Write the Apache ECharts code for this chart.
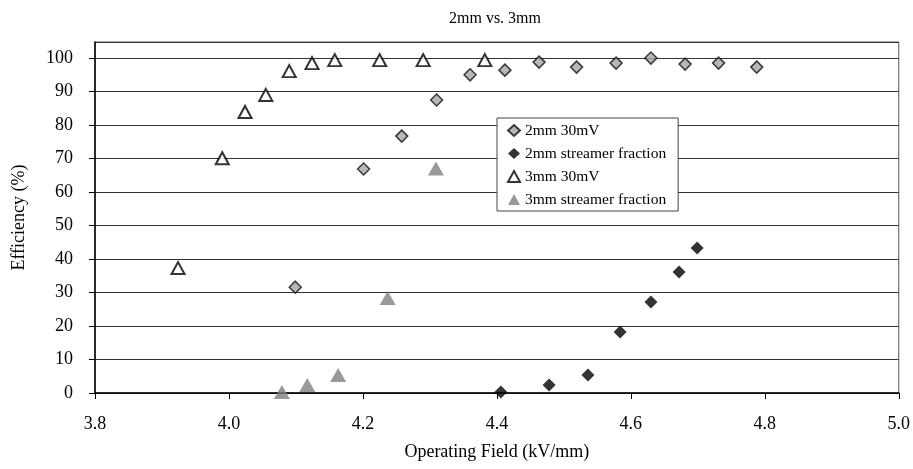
<!DOCTYPE html>
<html>
<head>
<meta charset="utf-8">
<script src="https://cdn.jsdelivr.net/npm/echarts@6/dist/echarts.min.js"></script>
<style>
  html, body { margin: 0; padding: 0; background: #fff; }
  #chart { width: 913px; height: 469px; }
</style>
</head>
<body>
<div id="chart"></div>
<script>
// 2mm 30mV
var field2mm30 = [4.099, 4.201, 4.258, 4.310, 4.360, 4.412, 4.463, 4.519, 4.578, 4.630, 4.681, 4.731, 4.788];
var eff2mm30   = [31.6, 66.9, 76.7, 87.5, 95.0, 96.4, 98.8, 97.3, 98.5, 100.0, 98.2, 98.5, 97.3];
// 2mm streamer fraction
var field2mmSt = [4.406, 4.478, 4.536, 4.584, 4.630, 4.672, 4.699];
var eff2mmSt   = [0.3, 2.4, 5.4, 18.2, 27.2, 36.1, 43.3];
// 3mm 30mV
var field3mm30 = [3.924, 3.990, 4.024, 4.055, 4.090, 4.124, 4.158, 4.225, 4.290, 4.382];
var eff3mm30   = [37.3, 70.1, 83.9, 89.0, 96.1, 98.5, 99.4, 99.4, 99.4, 99.4];
// 3mm streamer fraction
var field3mmSt = [4.079, 4.117, 4.163, 4.237, 4.309];
var eff3mmSt   = [0.3, 2.4, 5.4, 28.4, 67.0];

var seriesNames = ['2mm 30mV', '2mm streamer fraction', '3mm 30mV', '3mm streamer fraction'];

function zip(xs, ys) {
  var out = [];
  for (var i = 0; i < xs.length; i++) out.push([xs[i], ys[i]]);
  return out;
}

var serif = "'Liberation Serif', 'DejaVu Serif', serif";

var option = {
  animation: false,
  backgroundColor: '#fff',
  title: {
    text: '2mm vs. 3mm',
    left: 490,
    textAlign: 'center',
    top: 6,
    textStyle: { fontFamily: serif, fontSize: 16, fontWeight: 'normal', color: '#000' }
  },
  grid: {
    left: 95, right: 14, top: 42, bottom: 76,
    show: true, borderColor: '#555', borderWidth: 1
  },
  legend: {
    data: seriesNames,
    orient: 'vertical',
    left: 497,
    top: 118,
    backgroundColor: '#fff',
    borderColor: '#444',
    borderWidth: 1,
    padding: [4, 12, 3, 10],
    itemWidth: 12,
    itemHeight: 11,
    itemGap: 6,
    textStyle: { fontFamily: serif, fontSize: 15.5, color: '#000', lineHeight: 17 }
  },
  xAxis: {
    type: 'value',
    min: 3.8,
    max: 5.0,
    interval: 0.2,
    name: 'Operating Field (kV/mm)',
    nameLocation: 'middle',
    nameGap: 50,
    nameTextStyle: { fontFamily: serif, fontSize: 18, color: '#000' },
    axisLine: { show: true, onZero: false, lineStyle: { color: '#000', width: 1.5 } },
    axisTick: { show: true, length: 6, lineStyle: { color: '#000' } },
    axisLabel: {
      fontFamily: serif, fontSize: 18, color: '#000', margin: 22,
      formatter: function (v) { return v.toFixed(1); }
    },
    splitLine: { show: false }
  },
  yAxis: {
    type: 'value',
    min: 0,
    max: 104.8,
    interval: 10,
    name: 'Efficiency (%)',
    nameLocation: 'middle',
    nameGap: 67,
    nameTextStyle: { fontFamily: serif, fontSize: 18, color: '#000' },
    axisLine: { show: true, lineStyle: { color: '#000', width: 1.5 } },
    axisTick: { show: true, length: 6, lineStyle: { color: '#000' } },
    axisLabel: {
      fontFamily: serif, fontSize: 18, color: '#000', margin: 22,
      showMaxLabel: false
    },
    splitLine: { show: true, lineStyle: { color: '#333', width: 1 } }
  },
  series: [
    {
      name: seriesNames[0],
      type: 'scatter',
      symbol: 'diamond',
      symbolSize: 12,
      itemStyle: { color: '#a6a6a6', borderColor: '#111', borderWidth: 1.5 },
      data: zip(field2mm30, eff2mm30)
    },
    {
      name: seriesNames[1],
      type: 'scatter',
      symbol: 'diamond',
      symbolSize: 13,
      itemStyle: { color: '#000' },
      data: zip(field2mmSt, eff2mmSt)
    },
    {
      name: seriesNames[2],
      type: 'scatter',
      symbol: 'triangle',
      symbolSize: [13, 12],
      itemStyle: { color: '#fff', borderColor: '#000', borderWidth: 2 },
      data: zip(field3mm30, eff3mm30)
    },
    {
      name: seriesNames[3],
      type: 'scatter',
      symbol: 'triangle',
      symbolSize: [16, 14],
      itemStyle: { color: '#7f7f7f' },
      data: zip(field3mmSt, eff3mmSt)
    }
  ]
};

var myChart = echarts.init(document.getElementById('chart'));
myChart.setOption(option);
window.addEventListener('resize', function () { myChart.resize(); });
</script>
</body>
</html>
